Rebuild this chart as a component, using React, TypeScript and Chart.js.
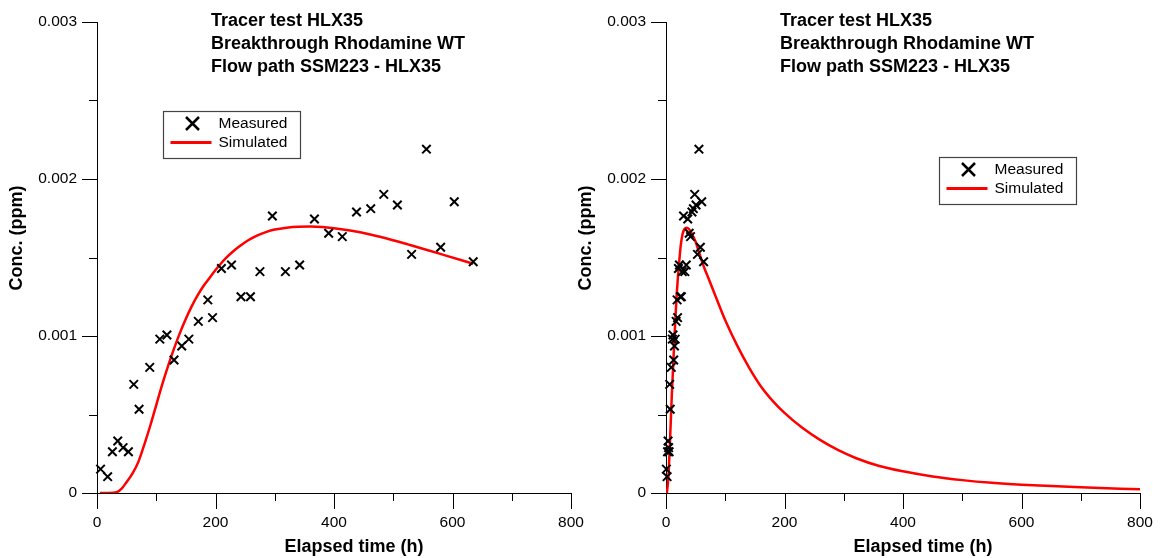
import React, { useEffect, useRef } from 'react';
import { Chart, registerables } from 'chart.js';

Chart.register(...registerables);

const FONT = "'Liberation Sans', Arial, Helvetica, sans-serif";

const titleLines = ['Tracer test HLX35', 'Breakthrough Rhodamine WT', 'Flow path SSM223 - HLX35'];
const xAxisTitle = 'Elapsed time (h)';
const yAxisTitle = 'Conc. (ppm)';
const legendLabels = ['Measured', 'Simulated'];

// Measured concentrations (ppm)
const measuredY = [
  0.000152, 0.000104, 0.000263, 0.000331, 0.000289, 0.000263, 0.000692, 0.000533,
  0.0008, 0.00098, 0.001006, 0.000847, 0.000936, 0.00098, 0.001093, 0.00123,
  0.001117, 0.00143, 0.001452, 0.00125, 0.00125, 0.00141, 0.001764, 0.00141,
  0.001452, 0.001745, 0.001654, 0.001633, 0.00179, 0.001811, 0.001902, 0.001834,
  0.00152, 0.00219, 0.001565, 0.001855, 0.001473,
];

// Left panel: elapsed time of measured samples (h)
const leftMeasuredX = [
  6, 18, 26, 35, 44, 53, 62, 71,
  89, 106, 118, 130, 143, 155, 171, 187,
  195, 210, 227, 243, 259, 275, 296, 318,
  342, 367, 391, 414, 438, 462, 484, 507,
  531, 556, 580, 603, 635,
];

// Right panel: elapsed time of measured samples (h)
const rightMeasuredX = [
  0.6, 1.8, 2.6, 3.5, 4.4, 5.3, 6.2, 7.1,
  8.9, 10.6, 11.8, 13, 14.3, 15.5, 17.1, 18.7,
  19.5, 21, 22.7, 24.3, 25.9, 27.5, 29.6, 31.8,
  34.2, 36.7, 39.1, 41.4, 43.8, 46.2, 48.4, 50.7,
  53.1, 55.6, 58, 60.3, 63.5,
];

// Left panel simulated curve
const leftSimX = [5, 20, 33, 42, 50, 60, 70, 80, 90, 100, 110, 120, 130, 140, 150, 160, 170, 180, 190, 200, 210, 220, 230, 240, 250, 260, 270, 285, 300, 320, 340, 360, 380, 400, 430, 463, 495, 526, 560, 589, 635];
const leftSimY = [0, 0, 0.000005, 0.00003, 0.00007, 0.000125, 0.0002, 0.00031, 0.00043, 0.00056, 0.00069, 0.00081, 0.00092, 0.00102, 0.00111, 0.00119, 0.00126, 0.00132, 0.00137, 0.00142, 0.001465, 0.001505, 0.00154, 0.00157, 0.001597, 0.00162, 0.00164, 0.001662, 0.001678, 0.00169, 0.001696, 0.001697, 0.001695, 0.001687, 0.00167, 0.001645, 0.001615, 0.001582, 0.001545, 0.001512, 0.00146];

// Right panel simulated curve
const rightSimX = [1.5, 4, 6, 8, 10, 12, 14, 16, 18, 20, 22, 25, 28, 31, 35, 39, 43, 50, 56, 65, 72, 85, 100, 120, 140, 160, 180, 200, 230, 260, 290, 320, 360, 400, 450, 500, 550, 600, 700, 800];
const rightSimY = [0, 0.0001, 0.00026, 0.00045, 0.00064, 0.0008, 0.00097, 0.00112, 0.00126, 0.00137, 0.00146, 0.00158, 0.00165, 0.00168, 0.00169, 0.00168, 0.001656, 0.0016, 0.00153, 0.00143, 0.001365, 0.00124, 0.0011, 0.00094, 0.0008, 0.00068, 0.000587, 0.00051, 0.000415, 0.000338, 0.000274, 0.000223, 0.000172, 0.000138, 0.000105, 0.000082, 0.000065, 0.000053, 0.000036, 0.000024];

type PanelCfg = {
  measuredX: number[];
  simX: number[];
  simY: number[];
  width: number;
  axisLeft: number;
  padRight: number;
  legendDx: number;
  legendDy: number;
};

function Panel({ cfg }: { cfg: PanelCfg }) {
  const ref = useRef<HTMLCanvasElement>(null);
  useEffect(() => {
    const canvas = ref.current;
    if (!canvas) return;
    const decor = {
      id: 'decor',
      afterDraw(chart: any) {
        const c = chart.ctx as CanvasRenderingContext2D;
        const a = chart.chartArea;
        const xs = chart.scales.x;
        const ys = chart.scales.y;
        c.save();
        c.strokeStyle = '#000';
        c.lineWidth = 1;
        ys.ticks.forEach((t: any) => {
          const p = Math.round(ys.getPixelForValue(t.value)) + 0.5;
          const k = Math.round(t.value * 2000);
          const len = k % 2 === 0 ? 15 : 8;
          c.beginPath();
          c.moveTo(a.left - len, p);
          c.lineTo(a.left, p);
          c.stroke();
        });
        xs.ticks.forEach((t: any) => {
          const p = Math.round(xs.getPixelForValue(t.value)) + 0.5;
          const len = Math.round(t.value) % 200 === 0 ? 16 : 8;
          c.beginPath();
          c.moveTo(p, a.bottom);
          c.lineTo(p, a.bottom + len);
          c.stroke();
        });
        c.fillStyle = '#000';
        c.font = `bold 18px ${FONT}`;
        c.textAlign = 'left';
        c.textBaseline = 'alphabetic';
        titleLines.forEach((l, i) => c.fillText(l, a.left + 114, a.top + 4 + i * 23));
        c.textAlign = 'center';
        c.textBaseline = 'middle';
        c.fillText(xAxisTitle, a.left + 257, 547);
        c.save();
        c.translate(a.left - 80, a.top + 216);
        c.rotate(-Math.PI / 2);
        c.fillText(yAxisTitle, 0, 0);
        c.restore();
        // legend
        const lx = Math.round(a.left + cfg.legendDx) + 0.5;
        const ly = Math.round(a.top + cfg.legendDy) + 0.5;
        c.fillStyle = '#fff';
        c.fillRect(lx, ly, 137, 47);
        c.strokeStyle = '#444';
        c.lineWidth = 1.2;
        c.strokeRect(lx, ly, 137, 47);
        c.strokeStyle = '#000';
        c.lineWidth = 2.5;
        const mx = lx + 29, my = ly + 12, r = 6.5;
        c.beginPath();
        c.moveTo(mx - r, my - r);
        c.lineTo(mx + r, my + r);
        c.moveTo(mx - r, my + r);
        c.lineTo(mx + r, my - r);
        c.stroke();
        c.strokeStyle = '#ff0000';
        c.lineWidth = 3;
        c.beginPath();
        c.moveTo(lx + 7, ly + 31);
        c.lineTo(lx + 48, ly + 31);
        c.stroke();
        c.fillStyle = '#000';
        c.font = `15.5px ${FONT}`;
        c.textAlign = 'left';
        c.textBaseline = 'middle';
        c.fillText(legendLabels[0], lx + 55, ly + 12);
        c.fillText(legendLabels[1], lx + 55, ly + 31);
        c.restore();
      },
    };

    const chart = new Chart(canvas, {
      type: 'scatter',
      data: {
        datasets: [
          {
            label: legendLabels[0],
            data: cfg.measuredX.map((x, i) => ({ x, y: measuredY[i] })),
            pointStyle: 'crossRot',
            pointRadius: 6,
            pointBorderWidth: 2,
            borderColor: '#000',
            backgroundColor: '#000',
            clip: false,
          } as any,
          {
            label: legendLabels[1],
            data: cfg.simX.map((x, i) => ({ x, y: cfg.simY[i] })),
            showLine: true,
            pointRadius: 0,
            borderColor: '#ff0000',
            backgroundColor: '#ff0000',
            borderWidth: 2.5,
            cubicInterpolationMode: 'monotone',
          } as any,
        ],
      },
      options: {
        animation: false,
        responsive: false,
        devicePixelRatio: 1,
        layout: { padding: { left: 0, right: cfg.padRight, top: 22, bottom: 0 } },
        plugins: {
          legend: { display: false },
          tooltip: { enabled: false },
          title: { display: false },
        },
        scales: {
          x: {
            type: 'linear',
            min: 0,
            max: 800,
            afterFit: (s: any) => {
              s.height = 65;
              s.paddingLeft = 0;
              s.paddingRight = 0;
            },
            ticks: {
              stepSize: 100,
              autoSkip: false,
              maxRotation: 0,
              padding: 20,
              color: '#000',
              font: { family: FONT, size: 15.5 },
              callback: (v: any) => (Math.round(v) % 200 === 0 ? String(Math.round(v)) : ''),
            },
            grid: { drawOnChartArea: false, drawTicks: false },
            border: { display: true, color: '#000', width: 1 },
          },
          y: {
            type: 'linear',
            min: 0,
            max: 0.003,
            afterFit: (s: any) => {
              s.width = cfg.axisLeft;
              s.paddingTop = 0;
              s.paddingBottom = 0;
            },
            ticks: {
              stepSize: 0.0005,
              autoSkip: false,
              padding: 20,
              color: '#000',
              font: { family: FONT, size: 15.5 },
              callback: (v: any) => {
                const k = Math.round(v * 2000);
                if (k % 2 !== 0) return '';
                return k === 0 ? '0' : (k / 2000).toFixed(3);
              },
            },
            grid: { drawOnChartArea: false, drawTicks: false },
            border: { display: true, color: '#000', width: 1 },
          },
        },
      } as any,
      plugins: [decor],
    });
    return () => chart.destroy();
  }, [cfg]);
  return (
    <canvas
      ref={ref}
      width={cfg.width}
      height={558}
      style={{ display: 'block', width: cfg.width, height: 558 }}
    />
  );
}

const leftCfg: PanelCfg = {
  measuredX: leftMeasuredX,
  simX: leftSimX,
  simY: leftSimY,
  width: 592,
  axisLeft: 97,
  padRight: 21,
  legendDx: 66,
  legendDy: 89,
};

const rightCfg: PanelCfg = {
  measuredX: rightMeasuredX,
  simX: rightSimX,
  simY: rightSimY,
  width: 597,
  axisLeft: 101,
  padRight: 22,
  legendDx: 273,
  legendDy: 135,
};

export default function App() {
  return (
    <div style={{ position: 'absolute', left: 0, top: 0, width: 1162, height: 558, background: '#fff' }}>
      <div style={{ position: 'absolute', left: 0, top: 0, width: 592, height: 558 }}>
        <Panel cfg={leftCfg} />
      </div>
      <div style={{ position: 'absolute', left: 565, top: 0, width: 597, height: 558 }}>
        <Panel cfg={rightCfg} />
      </div>
    </div>
  );
}
